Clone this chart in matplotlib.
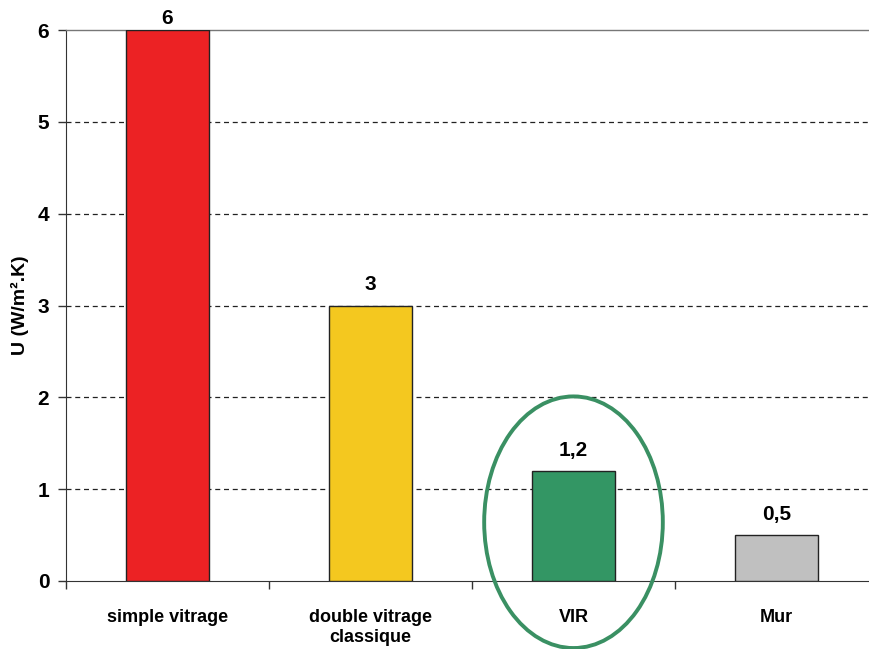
import matplotlib
matplotlib.use("Agg")
import matplotlib.pyplot as plt
from matplotlib.patches import Ellipse
from matplotlib import font_manager

categories = ["simple vitrage", "double vitrage\nclassique", "VIR", "Mur"]
values = [6, 3, 1.2, 0.5]
value_labels = ["6", "3", "1,2", "0,5"]
colors = ["#EC2224", "#F4C81F", "#339664", "#C0C0C0"]
yticks = [0, 1, 2, 3, 4, 5, 6]

names = {f.name for f in font_manager.fontManager.ttflist}
fam = ["Liberation Sans Narrow", "Liberation Sans", "DejaVu Sans"] if "Liberation Sans Narrow" in names else ["Liberation Sans", "DejaVu Sans"]
plt.rcParams["font.family"] = fam

fig = plt.figure(figsize=(8.69, 6.49), dpi=100)
ax = fig.add_axes([66/869, 1-581/649, 812/869, (581-30)/649])

x = list(range(len(categories)))
ax.bar(x, values, width=0.41, color=colors, edgecolor="#222222", linewidth=1.0, zorder=3)

ymax = max(yticks)
for xi, v, lab in zip(x, values, value_labels):
    off = 1.5 if v >= ymax else 8
    ax.annotate(lab, (xi, v), xytext=(0, off), textcoords="offset points",
                ha="center", va="bottom", fontsize=15, fontweight="bold", zorder=4,
                annotation_clip=False)

ax.set_xlim(-0.5, 3.5)
ax.set_ylim(0, 6)
ax.set_yticks(yticks)
ax.set_yticklabels([str(t) for t in yticks], fontsize=15, fontweight="bold")
for yv in yticks[1:-1]:
    ax.axhline(yv, color="#222222", linestyle=(0, (4, 3)), linewidth=0.9, zorder=1)

ax.set_xticks(x)
ax.set_xticklabels(categories, fontsize=13, fontweight="bold", linespacing=1.25)
ax.tick_params(axis="x", which="major", length=0, pad=20)
ax.set_xticks([-0.5, 0.5, 1.5, 2.5], minor=True)
ax.tick_params(axis="x", which="minor", length=6, width=1, color="#333333", direction="out")
ax.tick_params(axis="y", length=6, width=1, color="#333333", direction="out", pad=6)

ax.spines["right"].set_visible(False)
ax.spines["top"].set_color("#777777")
ax.spines["top"].set_linewidth(1.0)
ax.spines["left"].set_color("#333333")
ax.spines["bottom"].set_color("#333333")

ax.set_ylabel("U (W/m².K)", fontsize=14, fontweight="bold")
ax.yaxis.set_label_coords((29 - 66) / 812, (581 - 305) / 551)

ell = Ellipse((2, 0.64), 0.88, 2.74, fill=False, edgecolor="#3A9063", linewidth=2.8,
              clip_on=False, zorder=5)
ax.add_patch(ell)

fig.savefig("out.png", dpi=100)
